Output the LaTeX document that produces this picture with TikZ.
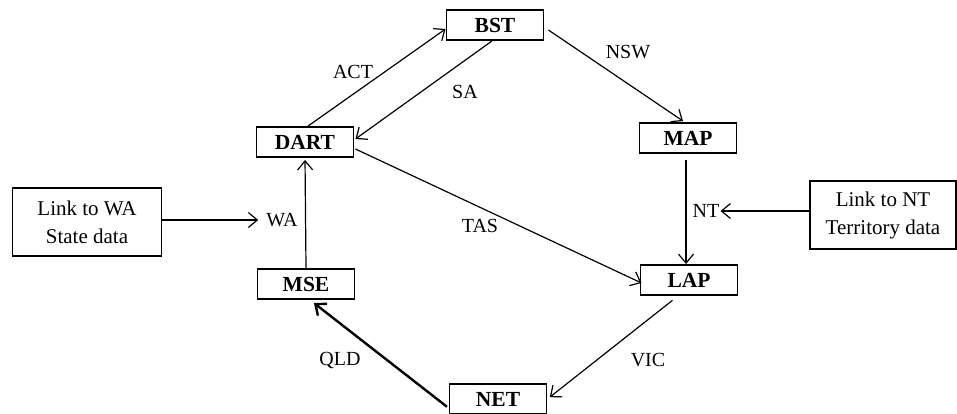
\documentclass[tikz,border=0pt]{standalone}
\usepackage{fontspec}
\setmainfont{Liberation Serif}
\usetikzlibrary{arrows.meta}
\tikzset{
  mainbox/.style={draw, line width=1.9pt, minimum width=97pt, minimum height=30pt, inner sep=0pt, font=\fontsize{21.5}{24}\selectfont\bfseries},
  linkbox/.style={draw, line width=1.1pt, minimum width=149pt, minimum height=68pt, align=center, inner sep=0pt, font=\fontsize{21}{28}\selectfont},
  lbl/.style={inner sep=1pt, font=\fontsize{20}{23}\selectfont},
  conn/.style={line width=1.2pt, -{Straight Barb[length=9pt,width=15pt,line width=1.2pt]}},
  thickconn/.style={line width=2.4pt, -{Straight Barb[length=9pt,width=15pt,line width=2.4pt]}}
}
\begin{document}
\begin{tikzpicture}[x=1pt,y=-1pt]
\useasboundingbox (0,0) rectangle (957,413);
% main boxes
\node[mainbox] (BST)  at (495,25)  {BST};
\node[mainbox] (DART) at (305,142) {DART};
\node[mainbox] (MAP)  at (688,138) {MAP};
\node[mainbox] (LAP)  at (689,280) {LAP};
\node[mainbox] (MSE)  at (306,284) {MSE};
\node[mainbox] (NET)  at (498,399) {NET};
% link boxes
\node[linkbox] (WAlink) at (87,222)  {Link to WA\\State data};
\node[linkbox, minimum width=146pt] (NTlink) at (883,215) {Link to NT\\Territory data};
% labels
\node[lbl] (ACT) at (353,72)  {ACT};
\node[lbl] (SA)  at (465,92)  {SA};
\node[lbl] (NSW) at (628,52)  {NSW};
\node[lbl] (TAS) at (480,226) {TAS};
\node[lbl] (QLD) at (340,360) {QLD};
\node[lbl] (VIC) at (648,360) {VIC};
\node[lbl] (WA)  at (282,220) {WA};
\node[lbl] (NT)  at (706,211) {NT};
% connectors
\draw[conn] ([xshift=3pt]DART.north) -- ([yshift=-4pt]BST.west);
\draw[conn] ([xshift=-3pt]BST.south) -- ([yshift=3pt,xshift=1pt]DART.east);
\draw[conn] ([yshift=-5pt,xshift=4pt]BST.east) -- ([xshift=-5pt,yshift=1pt]MAP.north);
\draw[conn, shorten <=6pt] ([xshift=-2pt]MAP.south) -- ([xshift=-3pt]LAP.north);
\draw[conn] ([yshift=-7pt,xshift=1pt]DART.east) -- ([yshift=-3pt,xshift=2pt]LAP.west);
\draw[conn, shorten <=7pt, shorten >=3pt] ([xshift=-11pt]LAP.south) -- (NET.east);
\draw[thickconn, shorten <=2pt, shorten >=5pt] ([yshift=-9pt]NET.west) -- ([xshift=4pt]MSE.south);
\draw[conn, shorten >=2pt] (MSE.north) -- (DART.south);
\draw[conn] (WAlink.east |- WA.west) -- ([xshift=-7pt]WA.west);
\draw[conn] (NTlink.west |- NT.east) -- (NT.east);
\end{tikzpicture}
\end{document}
